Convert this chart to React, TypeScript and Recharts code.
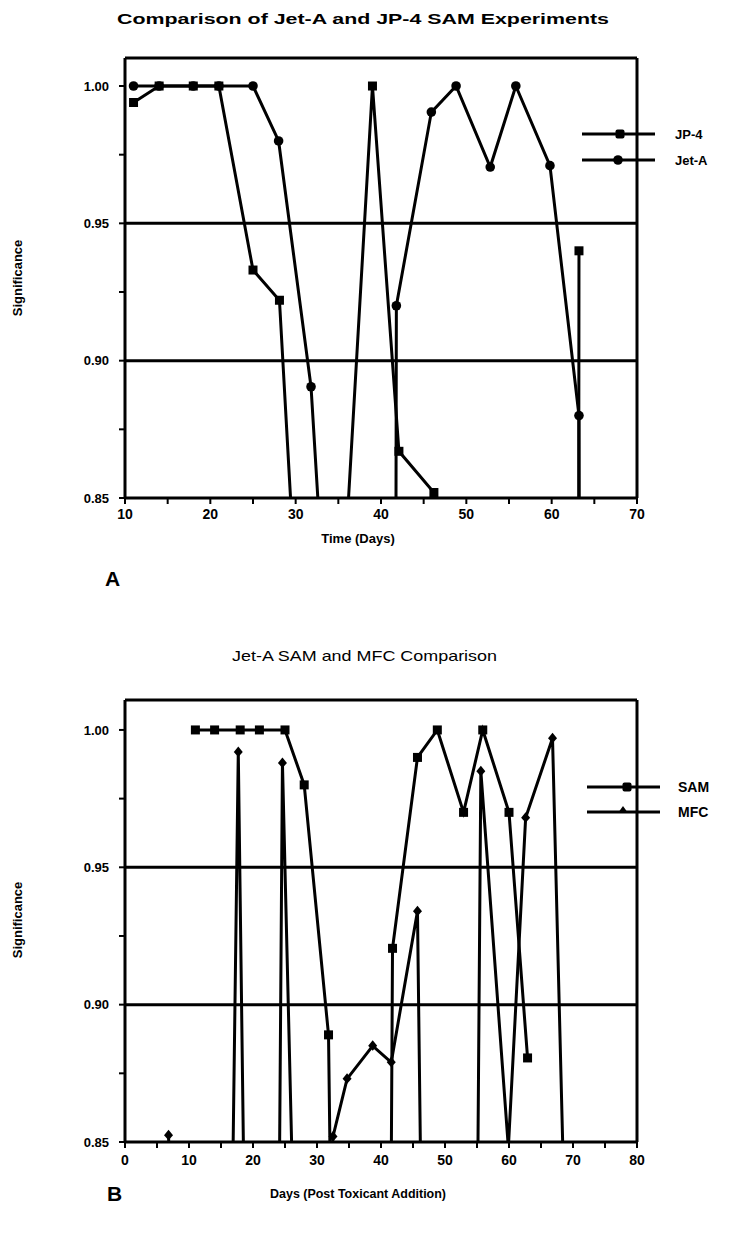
import React from 'react';
import { LineChart, Line, XAxis, YAxis, ReferenceLine } from 'recharts';

// ---------- Chart A: Comparison of Jet-A and JP-4 SAM Experiments ----------
const jp4Days = [11, 14, 18, 21, 25, 28.1, 32, 35, 39, 42.1, 46.2, 49, 63, 63.2];
const jp4Sig = [0.994, 1.0, 1.0, 1.0, 0.933, 0.922, 0.706, 0.786, 1.0, 0.867, 0.852, 0.3, 0.2, 0.94];

const jetADays = [11, 14, 18, 21, 25, 28, 31.8, 35, 41.5, 41.8, 45.9, 48.8, 52.8, 55.8, 59.8, 63.2, 63.5];
const jetASig = [1.0, 1.0, 1.0, 1.0, 1.0, 0.98, 0.8905, 0.728, 0.4, 0.92, 0.9905, 1.0, 0.9705, 1.0, 0.971, 0.88, 0.5];

const xTicksA = [10, 15, 20, 25, 30, 35, 40, 45, 50, 55, 60, 65, 70];

// ---------- Chart B: Jet-A SAM and MFC Comparison ----------
const samDays = [11, 14, 18, 21, 25, 28, 31.8, 35, 40, 41.8, 45.7, 48.8, 52.9, 55.9, 60, 62.9];
const samSig = [1.0, 1.0, 1.0, 1.0, 1.0, 0.98, 0.889, 0.3, 0.2, 0.9205, 0.99, 1.0, 0.97, 1.0, 0.97, 0.8806];

const mfcDays = [6.8, 14, 17.7, 20, 23, 24.6, 28, 32.5, 34.7, 38.7, 41.6, 45.7, 48, 54, 55.6, 59.9, 62.6, 66.8, 70];
const mfcSig = [0.8525, 0.335, 0.992, 0.58, 0.48, 0.988, 0.66, 0.852, 0.873, 0.885, 0.879, 0.934, 0.5, 0.5, 0.985, 0.848, 0.968, 0.997, 0.7];

const xTicksB = [0, 5, 10, 15, 20, 25, 30, 35, 40, 45, 50, 55, 60, 65, 70, 75, 80];

const yTicks = [0.85, 0.875, 0.9, 0.925, 0.95, 0.975, 1.0];
const yGrid = [0.9, 0.95];

const FONT = '"Liberation Sans", Arial, sans-serif';

const toRows = (xs: number[], ys: number[]) => xs.map((x, i) => ({ x, y: ys[i] }));

const yFmt = (v: number) => (Math.round(v * 1000) % 50 === 0 ? v.toFixed(2) : '');
const xFmt = (v: number) => (v % 10 === 0 ? String(v) : '');

const makeDot = (shape: 'square' | 'circle' | 'diamond') => (props: any) => {
  const { cx, cy, payload, index } = props;
  if (cx == null || cy == null || payload.y < 0.85) return <g key={`d-${index}`} />;
  if (shape === 'square')
    return <rect key={`d-${index}`} x={cx - 4.5} y={cy - 4.5} width={9} height={9} fill="#000" />;
  if (shape === 'circle') return <circle key={`d-${index}`} cx={cx} cy={cy} r={4.8} fill="#000" />;
  return (
    <path
      key={`d-${index}`}
      d={`M${cx},${cy - 5.5} L${cx + 4.5},${cy} L${cx},${cy + 5} L${cx - 4.5},${cy} Z`}
      fill="#000"
    />
  );
};

const axisLine = { stroke: '#000', strokeWidth: 3 };
const tickLine = { stroke: '#000', strokeWidth: 2 };
const tickStyle = { fill: '#000', fontSize: 13, fontWeight: 700, fontFamily: FONT };

function ChartA() {
  const yMax = 1.0102;
  return (
    <LineChart width={730} height={560} margin={{ top: 58, right: 93, left: 0, bottom: 32 }}>
      <XAxis
        type="number"
        dataKey="x"
        domain={[10, 70]}
        ticks={xTicksA}
        interval={0}
        tickFormatter={xFmt}
        axisLine={axisLine}
        tickLine={tickLine}
        tickSize={6}
        tickMargin={5}
        tick={{ ...tickStyle, fontSize: 14 }}
        height={30}
        allowDataOverflow
      />
      <YAxis
        type="number"
        dataKey="y"
        domain={[0.85, yMax]}
        ticks={yTicks}
        interval={0}
        tickFormatter={yFmt}
        axisLine={axisLine}
        tickLine={tickLine}
        tickSize={6}
        tickMargin={10}
        tick={tickStyle}
        width={125}
        allowDataOverflow
      />
      {yGrid.map((g) => (
        <ReferenceLine key={g} y={g} stroke="#000" strokeWidth={3} />
      ))}
      <ReferenceLine y={yMax} stroke="#000" strokeWidth={3} />
      <ReferenceLine x={70} stroke="#000" strokeWidth={3} />
      <Line
        data={toRows(jp4Days, jp4Sig)}
        dataKey="y"
        type="linear"
        stroke="#000"
        strokeWidth={3}
        dot={makeDot('square')}
        isAnimationActive={false}
      />
      <Line
        data={toRows(jetADays, jetASig)}
        dataKey="y"
        type="linear"
        stroke="#000"
        strokeWidth={3}
        dot={makeDot('circle')}
        isAnimationActive={false}
      />
    </LineChart>
  );
}

function ChartB() {
  const yMax = 1.0109;
  return (
    <LineChart width={730} height={600} margin={{ top: 80, right: 93, left: 0, bottom: 48 }}>
      <XAxis
        type="number"
        dataKey="x"
        domain={[0, 80]}
        ticks={xTicksB}
        interval={0}
        tickFormatter={xFmt}
        axisLine={axisLine}
        tickLine={tickLine}
        tickSize={6}
        tickMargin={7}
        tick={{ ...tickStyle, fontSize: 14 }}
        height={30}
        allowDataOverflow
      />
      <YAxis
        type="number"
        dataKey="y"
        domain={[0.85, yMax]}
        ticks={yTicks}
        interval={0}
        tickFormatter={yFmt}
        axisLine={axisLine}
        tickLine={tickLine}
        tickSize={6}
        tickMargin={10}
        tick={tickStyle}
        width={125}
        allowDataOverflow
      />
      {yGrid.map((g) => (
        <ReferenceLine key={g} y={g} stroke="#000" strokeWidth={3} />
      ))}
      <ReferenceLine y={yMax} stroke="#000" strokeWidth={3} />
      <ReferenceLine x={80} stroke="#000" strokeWidth={3} />
      <Line
        data={toRows(samDays, samSig)}
        dataKey="y"
        type="linear"
        stroke="#000"
        strokeWidth={3}
        dot={makeDot('square')}
        isAnimationActive={false}
      />
      <Line
        data={toRows(mfcDays, mfcSig)}
        dataKey="y"
        type="linear"
        stroke="#000"
        strokeWidth={3}
        dot={makeDot('diamond')}
        isAnimationActive={false}
      />
    </LineChart>
  );
}

function Overlay() {
  const bold = { fontFamily: FONT, fontWeight: 700, fill: '#000' } as const;
  return (
    <svg
      width={730}
      height={1236}
      style={{ position: 'absolute', left: 0, top: 0, pointerEvents: 'none' }}
    >
      {/* Chart A texts */}
      <text x={117} y={24} fontSize={14} {...bold} textLength={492} lengthAdjust="spacingAndGlyphs">
        Comparison of Jet-A and JP-4 SAM Experiments
      </text>
      <text x={22} y={278} fontSize={13} {...bold} textAnchor="middle" transform="rotate(-90 22 278)">
        Significance
      </text>
      <text x={358} y={543} fontSize={13} {...bold} textAnchor="middle">
        Time (Days)
      </text>
      <text x={105} y={586} fontSize={21} {...bold}>
        A
      </text>
      {/* Legend A */}
      <line x1={582} y1={134} x2={655} y2={134} stroke="#000" strokeWidth={3} />
      <rect x={615.5} y={129.5} width={9} height={9} rx={2} fill="#000" />
      <text x={675} y={139} fontSize={13} {...bold}>
        JP-4
      </text>
      <line x1={582} y1={160} x2={655} y2={160} stroke="#000" strokeWidth={3} />
      <circle cx={618} cy={160} r={4.8} fill="#000" />
      <text x={675} y={165} fontSize={13} {...bold}>
        Jet-A
      </text>

      {/* Chart B texts */}
      <text x={232} y={661} fontSize={15} fontFamily={FONT} fill="#000" textLength={265} lengthAdjust="spacingAndGlyphs">
        Jet-A SAM and MFC Comparison
      </text>
      <text x={22} y={920} fontSize={13} {...bold} textAnchor="middle" transform="rotate(-90 22 920)">
        Significance
      </text>
      <text x={270} y={1198} fontSize={13} {...bold} textLength={176} lengthAdjust="spacingAndGlyphs">
        Days (Post Toxicant Addition)
      </text>
      <text x={107} y={1201} fontSize={21} {...bold}>
        B
      </text>
      {/* Legend B */}
      <line x1={587} y1={787} x2={660} y2={787} stroke="#000" strokeWidth={3} />
      <rect x={622.5} y={782.5} width={9} height={9} rx={2} fill="#000" />
      <text x={678} y={792} fontSize={14} {...bold}>
        SAM
      </text>
      <line x1={587} y1={812} x2={660} y2={812} stroke="#000" strokeWidth={3} />
      <path d="M623,806 L628,813 L618,813 Z" fill="#000" />
      <text x={678} y={817} fontSize={14} {...bold}>
        MFC
      </text>
    </svg>
  );
}

export default function App() {
  return (
    <div style={{ position: 'absolute', left: 0, top: 0, width: 730, height: 1236, background: '#fff' }}>
      <div style={{ position: 'absolute', left: 0, top: 0 }}>
        <ChartA />
      </div>
      <div style={{ position: 'absolute', left: 0, top: 620 }}>
        <ChartB />
      </div>
      <Overlay />
    </div>
  );
}
